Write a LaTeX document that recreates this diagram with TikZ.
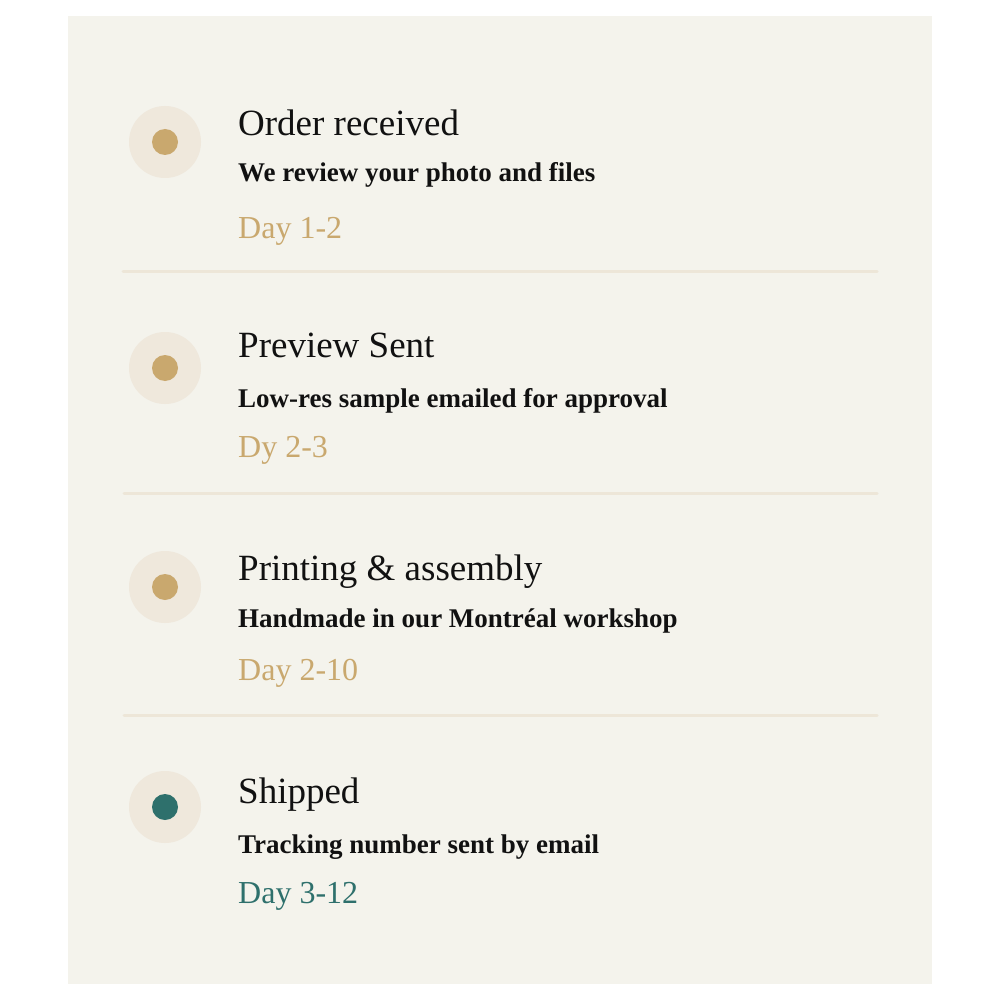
\documentclass[tikz,border=0pt]{standalone}
\usepackage{fontspec}
\setmainfont{Liberation Serif}
\definecolor{panelbg}{RGB}{244,243,236}
\definecolor{halocol}{RGB}{239,232,220}
\definecolor{goldcol}{RGB}{201,168,110}
\definecolor{tealcol}{RGB}{46,112,108}
\definecolor{rulecol}{RGB}{237,230,216}
\definecolor{inkcol}{RGB}{17,17,17}
\tikzset{
  halo/.style={circle,fill=halocol,minimum size=72pt,inner sep=0pt},
  dotgold/.style={circle,fill=goldcol,minimum size=26pt,inner sep=0pt},
  dotteal/.style={circle,fill=tealcol,minimum size=26pt,inner sep=0pt},
  titletext/.style={anchor=base west,inner sep=0pt,text=inkcol,font=\fontsize{37}{40}\selectfont},
  subtext/.style={anchor=base west,inner sep=0pt,text=inkcol,font=\bfseries\fontsize{27}{30}\selectfont},
  daygold/.style={anchor=base west,inner sep=0pt,text=goldcol,font=\fontsize{32}{36}\selectfont},
  dayteal/.style={anchor=base west,inner sep=0pt,text=tealcol,font=\fontsize{32}{36}\selectfont},
  divider/.style={draw=rulecol,line width=3pt,line cap=round}
}
\begin{document}
\begin{tikzpicture}[x=1pt,y=-1pt]
\useasboundingbox (0,0) rectangle (1000,1000);
\fill[white] (0,0) rectangle (1000,1000);
\fill[panelbg] (68,16) rectangle (932,984);
% item 1
\node[halo] (h1) at (165,142) {};
\node[dotgold] (d1) at (165,142) {};
\node[titletext] (t1) at (238,136) {Order received};
\node[subtext] (s1) at (238,182) {We review your photo and files};
\node[daygold] (y1) at (238,238) {Day 1-2};
\draw[divider] (123,271) -- (877,271);
% item 2
\node[halo] (h2) at (165,368) {};
\node[dotgold] (d2) at (165,368) {};
\node[titletext] (t2) at (238,357) {Preview Sent};
\node[subtext] (s2) at (238,407) {Low-res sample emailed for approval};
\node[daygold] (y2) at (238,457) {Dy 2-3};
\draw[divider] (124,493) -- (877,493);
% item 3
\node[halo] (h3) at (165,587) {};
\node[dotgold] (d3) at (165,587) {};
\node[titletext] (t3) at (238,580) {Printing \& assembly};
\node[subtext] (s3) at (238,627) {Handmade in our Montréal workshop};
\node[daygold] (y3) at (238,680) {Day 2-10};
\draw[divider] (124,715) -- (877,715);
% item 4
\node[halo] (h4) at (165,807) {};
\node[dotteal] (d4) at (165,807) {};
\node[titletext] (t4) at (238,803) {Shipped};
\node[subtext] (s4) at (238,853) {Tracking number sent by email};
\node[dayteal] (y4) at (238,903) {Day 3-12};
\end{tikzpicture}
\end{document}
